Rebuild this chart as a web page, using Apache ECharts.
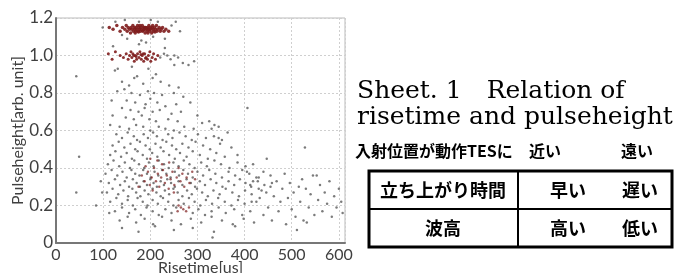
<!DOCTYPE html>
<html>
<head>
<meta charset="utf-8">
<script src="https://cdn.jsdelivr.net/npm/echarts@6/dist/echarts.min.js"></script>
<style>
html, body { margin: 0; padding: 0; background: #fff; }
#chart { width: 682px; height: 273px; }
</style>
</head>
<body>
<div id="chart"></div>
<script>
// x: risetime [us], y: pulseheight [arb. unit]
var xTicks = [0, 100, 200, 300, 400, 500, 600];
var yTicks = [0, 0.2, 0.4, 0.6, 0.8, 1.0, 1.2];

// dense band near 1.14
var bandHigh = [
	[113,1.15],[121,1.14],[129,1.16],[136,1.13],[141,1.15],[146,1.14],[149,1.16],[151,1.13],[153,1.15],[156,1.14],
	[158,1.12],[159,1.15],[161,1.14],[163,1.16],[164,1.13],[166,1.15],[167,1.14],[169,1.13],[170,1.15],[171,1.14],
	[173,1.16],[174,1.13],[176,1.15],[177,1.14],[179,1.13],[180,1.15],[181,1.14],[183,1.16],[184,1.13],[186,1.15],
	[187,1.14],[189,1.12],[190,1.15],[191,1.14],[193,1.13],[194,1.15],[196,1.14],[197,1.16],[199,1.13],[200,1.15],
	[201,1.14],[203,1.12],[204,1.15],[206,1.14],[207,1.13],[209,1.15],[211,1.14],[213,1.16],[214,1.13],[216,1.14],
	[219,1.15],[221,1.13],[223,1.14],[226,1.15],[229,1.13],[233,1.14],[239,1.13],[168,1.12],[178,1.16],[188,1.15],
	[195,1.12],[205,1.16],[185,1.135],[192,1.145],[175,1.125],[198,1.14],[210,1.125]
];
// dense band near 1.0
var bandMid = [
	[111,1.01],[119,0.98],[126,1.02],[136,1.00],[143,0.99],[149,1.01],[153,0.98],[156,1.00],[159,1.02],[161,0.99],
	[163,1.01],[166,0.97],[168,1.00],[171,0.98],[173,1.01],[176,0.99],[178,1.02],[181,0.98],[183,1.00],[186,0.97],
	[188,1.01],[191,0.99],[194,0.98],[196,1.00],[199,1.02],[201,0.97],[204,0.99],[207,1.01],[211,0.98],[216,1.00],
	[170,0.995],[180,1.005],[190,0.985],[165,1.0],[185,1.01]
];
// reddish core of the low cloud
var core = [
	[182,0.36],[188,0.33],[195,0.38],[199,0.31],[203,0.35],[208,0.40],[212,0.33],[216,0.37],[219,0.30],[223,0.35],
	[227,0.39],[231,0.32],[235,0.36],[239,0.29],[243,0.34],[247,0.38],[251,0.31],[256,0.35],[260,0.40],[264,0.33],
	[268,0.37],[272,0.30],[277,0.35],[283,0.32],[289,0.38],[295,0.34],[175,0.30],[190,0.41],[205,0.28],[225,0.42],
	[250,0.27],[265,0.19],[270,0.18],[276,0.17],[260,0.20],[282,0.19],[258,0.17],[240,0.43],[215,0.44],[200,0.45]
];
// loose points around the bands and in the middle
var upper = [
	[99,1.15],[126,1.18],[146,1.19],[176,1.18],[201,1.19],[216,1.18],[254,1.18],[263,1.13],[151,1.09],[181,1.08],
	[206,1.10],[231,1.09],[191,1.07],[140,1.11],[245,1.16],
	[221,0.99],[229,1.01],[236,1.00],[243,0.98],[251,1.00],[259,0.99],[269,0.96],[281,0.95],[293,0.97],[131,0.93],
	[161,0.94],[196,0.93],[121,1.05],[176,1.06],[231,1.04],[251,0.95],
	[125,0.92],[166,0.88],[172,0.89],[205,0.88],[212,0.90],[140,0.86],[155,0.84],[185,0.85],[222,0.86],[240,0.84],
	[260,0.83],[130,0.81],[145,0.82],[160,0.80],[178,0.79],[195,0.81],[208,0.80],[225,0.79],[250,0.80],[270,0.78],
	[118,0.76],[150,0.76],[168,0.75],[190,0.74],[200,0.77],[215,0.75],[232,0.73],[255,0.74],[285,0.75],[140,0.72],
	[158,0.71],[175,0.70],[188,0.72],[205,0.70],[220,0.71],[245,0.69],[265,0.70],[120,0.68],[148,0.67],[165,0.66],
	[182,0.68],[198,0.66],[212,0.65],[238,0.66],[258,0.65],[300,0.68],[310,0.64],[115,0.63],[135,0.62],[155,0.61],
	[170,0.63],[185,0.62],[200,0.60],[218,0.62],[232,0.61],[250,0.60],[272,0.62],[292,0.61],[330,0.61],[345,0.62],
	[345,0.56],[364,0.59],[325,0.65],[336,0.63],[43,0.89],[406,0.72]
];
var cloud = [
	[128,0.58],[140,0.56],[152,0.59],[165,0.57],[172,0.55],[186,0.58],[195,0.56],[206,0.59],[214,0.57],[226,0.55],
	[238,0.58],[247,0.56],[262,0.59],[275,0.57],[288,0.55],[301,0.58],[318,0.56],[335,0.57],[352,0.55],
	[120,0.52],[133,0.54],[145,0.51],[158,0.53],[168,0.50],[178,0.54],[190,0.52],[199,0.50],[211,0.53],[222,0.51],
	[234,0.54],[246,0.52],[255,0.50],[268,0.53],[281,0.51],[296,0.54],[312,0.52],[327,0.50],[348,0.53],[372,0.51],
	[115,0.47],[126,0.49],[138,0.46],[150,0.48],[161,0.45],[173,0.49],[184,0.47],[193,0.45],[204,0.48],[215,0.46],
	[228,0.49],[240,0.47],[252,0.45],[263,0.48],[277,0.46],[290,0.49],[305,0.47],[322,0.45],[340,0.48],[358,0.46],[385,0.47],
	[110,0.42],[122,0.44],[134,0.41],[146,0.43],[157,0.40],[166,0.44],[176,0.42],[187,0.40],[197,0.43],[207,0.41],
	[218,0.44],[229,0.42],[239,0.40],[249,0.43],[260,0.41],[271,0.44],[283,0.42],[294,0.40],[308,0.43],[320,0.41],
	[336,0.44],[350,0.42],[368,0.40],[385,0.43],[402,0.41],[418,0.42],
	[105,0.37],[118,0.39],[130,0.36],[141,0.38],[150,0.35],[160,0.39],[168,0.37],[177,0.36],[185,0.39],[193,0.37],
	[201,0.35],[209,0.38],[217,0.36],[225,0.39],[234,0.37],[243,0.35],[252,0.38],[261,0.36],[270,0.39],[280,0.37],
	[290,0.35],[300,0.38],[312,0.36],[325,0.39],[338,0.37],[352,0.35],[366,0.38],[380,0.36],[395,0.39],[410,0.37],
	[425,0.35],[440,0.38],[455,0.36],
	[112,0.32],[125,0.34],[136,0.31],[146,0.33],[155,0.30],[163,0.34],[171,0.32],[178,0.30],[186,0.33],[193,0.31],
	[200,0.34],[207,0.32],[214,0.30],[222,0.33],[229,0.31],[236,0.34],[244,0.32],[252,0.30],[260,0.33],[268,0.31],
	[277,0.34],[286,0.32],[295,0.30],[305,0.33],[316,0.31],[328,0.34],[340,0.32],[353,0.30],[366,0.33],[378,0.31],
	[390,0.34],[402,0.32],[414,0.30],[428,0.33],[442,0.31],[458,0.32],
	[108,0.27],[120,0.29],[132,0.26],[143,0.28],[153,0.25],[162,0.29],[170,0.27],[179,0.25],[188,0.28],[196,0.26],
	[205,0.29],[213,0.27],[222,0.25],[231,0.28],[240,0.26],[249,0.29],[258,0.27],[268,0.25],[278,0.28],[288,0.26],
	[299,0.29],[310,0.27],[322,0.25],[334,0.28],[347,0.26],[360,0.29],[374,0.27],[388,0.25],[401,0.28],[415,0.26],
	[430,0.29],[446,0.27],
	[115,0.22],[128,0.24],[140,0.21],[152,0.23],[163,0.20],[173,0.24],[184,0.22],[194,0.20],[205,0.23],[216,0.21],
	[227,0.24],[238,0.22],[249,0.20],[260,0.23],[271,0.21],[282,0.24],[294,0.22],[306,0.20],[318,0.23],[331,0.21],
	[344,0.24],[358,0.22],[372,0.20],[386,0.23],[400,0.21],[415,0.22],[432,0.24],
	[125,0.17],[140,0.19],[155,0.16],[168,0.18],[180,0.15],[192,0.19],[205,0.17],[218,0.15],[232,0.18],[245,0.16],
	[255,0.19],[290,0.16],[302,0.18],[316,0.15],[330,0.17],[345,0.19],[360,0.16],[378,0.18],[395,0.15],[412,0.17],
	[135,0.12],[152,0.14],[170,0.11],[188,0.13],[206,0.10],[225,0.14],[245,0.12],[265,0.10],[286,0.13],[308,0.11],
	[330,0.14],[352,0.12],[375,0.10],[398,0.13],[420,0.11],
	[140,0.08],[175,0.06],[210,0.09],[250,0.07],[290,0.08],[335,0.06],[380,0.09],
	[49,0.46],[43,0.27],[85,0.20],[95,0.33],[98,0.27],[113,0.16],[332,0.03]
];
// long-risetime tail
var tail = [
	[405,0.38],[412,0.31],[418,0.33],[425,0.22],[430,0.35],[436,0.28],[440,0.15],[447,0.45],[450,0.19],[455,0.30],
	[458,0.12],[462,0.25],[468,0.33],[472,0.17],[476,0.22],[480,0.29],[485,0.37],[488,0.10],[492,0.24],[496,0.32],
	[500,0.18],[504,0.27],[508,0.14],[511,0.07],[515,0.30],[518,0.22],[522,0.34],[525,0.12],[528,0.51],[530,0.29],
	[532,0.11],[536,0.19],[540,0.26],[545,0.36],[548,0.15],[553,0.36],[556,0.23],[560,0.31],[565,0.17],[570,0.27],
	[575,0.21],[580,0.33],[585,0.14],[590,0.25],[595,0.19],[600,0.29],[605,0.22],[608,0.16]
];

var chart = echarts.init(document.getElementById('chart'));

var labelFont = 'Lato';
var greyDot = '#5a5a5a';
var redDot = '#7e1c1c';

function dots(name, data, color, size, opacity) {
	return {
		name : name,
		type : 'scatter',
		data : data,
		symbol : 'circle',
		symbolSize : size,
		itemStyle : { color : color, opacity : opacity },
		silent : true
	};
}

function cellText(text, x, y, size) {
	return {
		type : 'text',
		x : x,
		y : y,
		style : {
			text : text,
			font : 'bold ' + size + 'px "Noto Sans CJK JP"',
			fill : '#000',
			align : 'center',
			verticalAlign : 'middle'
		}
	};
}

var option = {
	animation : false,
	backgroundColor : '#fff',
	grid : {
		left : 56, top : 18, right : 337, bottom : 30,
		outerBoundsMode : 'none',
		show : true, borderColor : '#bbb', borderWidth : 1
	},
	xAxis : {
		type : 'value',
		min : xTicks[0],
		max : 613,
		interval : 100,
		name : 'Risetime[us]',
		nameLocation : 'middle',
		nameGap : 17,
		nameMoveOverlap : false,
		nameTextStyle : { fontFamily : labelFont, fontSize : 16, color : '#404040', verticalAlign : 'top' },
		axisLine : { show : true, lineStyle : { color : '#777', width : 2 } },
		axisTick : { show : false },
		axisLabel : { fontFamily : labelFont, fontSize : 16, color : '#404040', margin : 4, showMaxLabel : false },
		splitLine : { show : true, lineStyle : { color : '#cfcfcf', type : [2, 2] } }
	},
	yAxis : {
		type : 'value',
		min : yTicks[0],
		max : yTicks[yTicks.length - 1],
		interval : 0.2,
		name : 'Pulseheight[arb. unit]',
		nameLocation : 'middle',
		nameGap : 28,
		nameTextStyle : { fontFamily : labelFont, fontSize : 16, color : '#404040' },
		axisLine : { show : true, lineStyle : { color : '#777', width : 2 } },
		axisTick : { show : false },
		axisLabel : {
			fontFamily : labelFont, fontSize : 17, color : '#404040', margin : 3,
			formatter : function(v) {
				return v === 0 ? '0' : v.toFixed(1);
			}
		},
		splitLine : { show : true, lineStyle : { color : '#cfcfcf', type : [2, 2] } }
	},
	series : [
		dots('cloud', cloud, greyDot, 2.5, 0.8),
		dots('tail', tail, greyDot, 2.5, 0.8),
		dots('upper', upper, greyDot, 2.5, 0.8),
		dots('core', core, redDot, 2.5, 0.7),
		dots('bandMid', bandMid, redDot, 3, 0.9),
		dots('bandHigh', bandHigh, redDot, 3.5, 0.9)
	],
	graphic : [
		{ type : 'text', x : 357, y : 91, style : { text : 'Sheet. 1\u3000Relation of', font : '25px "DejaVu Serif"', fill : '#000', verticalAlign : 'middle' } },
		{ type : 'text', x : 357, y : 117, style : { text : 'risetime and pulseheight', font : '25px "DejaVu Serif"', fill : '#000', verticalAlign : 'middle' } },
		{ type : 'text', x : 355, y : 151, style : { text : '入射位置が動作TESに', font : 'bold 16px "Noto Sans CJK JP"', fill : '#000', verticalAlign : 'middle' } },
		cellText('近い', 545, 151, 16),
		cellText('遠い', 637, 151, 16),
		{ type : 'rect', shape : { x : 369, y : 171, width : 303, height : 76 }, style : { fill : 'none', stroke : '#000', lineWidth : 3 } },
		{ type : 'line', shape : { x1 : 369, y1 : 209, x2 : 672, y2 : 209 }, style : { stroke : '#000', lineWidth : 2 } },
		{ type : 'line', shape : { x1 : 518, y1 : 171, x2 : 518, y2 : 247 }, style : { stroke : '#000', lineWidth : 2 } },
		cellText('立ち上がり時間', 443, 190, 18),
		cellText('早い', 568, 190, 18),
		cellText('遅い', 640, 190, 18),
		cellText('波高', 443, 228, 18),
		cellText('高い', 568, 228, 18),
		cellText('低い', 640, 228, 18)
	]
};

chart.setOption(option);
</script>
</body>
</html>
